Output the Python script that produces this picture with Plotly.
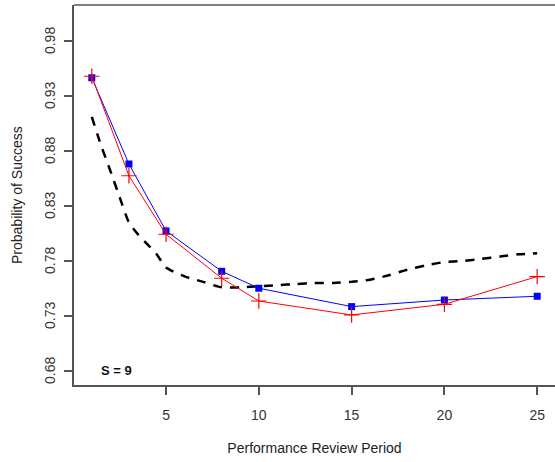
import plotly.graph_objects as go

# Data
periods = [1, 3, 5, 8, 10, 15, 20, 25]
blue_vals = [0.9466, 0.8682, 0.8073, 0.7706, 0.7552, 0.7385, 0.7445, 0.7479]
red_vals = [0.9480, 0.8575, 0.8043, 0.7643, 0.7436, 0.7309, 0.7406, 0.7658]

dash_x = [1, 1.5, 2, 2.5, 3, 3.5, 4, 4.5, 5, 6, 7, 8, 9, 10, 11, 12, 13, 14, 15,
          16, 17, 18, 19, 20, 21, 22, 23, 24, 25]
dash_y = [0.911, 0.885, 0.862, 0.838, 0.815, 0.804, 0.795, 0.786, 0.774, 0.766,
          0.761, 0.756, 0.756, 0.757, 0.758, 0.759, 0.760, 0.760, 0.761,
          0.763, 0.767, 0.772, 0.776, 0.779, 0.780, 0.782, 0.784, 0.786, 0.787]

x_ticks = [5, 10, 15, 20, 25]
y_ticks = [0.68, 0.73, 0.78, 0.83, 0.88, 0.93, 0.98]
y_tick_text = ["0.68", "0.73", "0.78", "0.83", "0.88", "0.93", "0.98"]

font_family = "Liberation Sans, Arial, sans-serif"
axis_color = "#555555"

fig = go.Figure()
fig.add_trace(go.Scatter(
    x=dash_x, y=dash_y, mode="lines",
    line=dict(color="black", width=2.5, dash="9px,8px", shape="spline", smoothing=0.6),
    showlegend=False, hoverinfo="skip"))
fig.add_trace(go.Scatter(
    x=periods, y=blue_vals, mode="lines+markers",
    line=dict(color="#0000FF", width=1),
    marker=dict(symbol="square", size=7, color="#0000FF"),
    showlegend=False))
fig.add_trace(go.Scatter(
    x=periods, y=red_vals, mode="lines+markers",
    line=dict(color="#FF0000", width=1),
    marker=dict(symbol="cross-thin", size=11, color="#FF0000",
                line=dict(color="#FF0000", width=1.2)),
    showlegend=False))

fig.add_annotation(x=2.32, y=0.6808, xref="x", yref="y", text="<b>S = 9</b>",
                   showarrow=False, font=dict(family=font_family, size=13, color="#111111"))

# Rotated y tick labels (R style)
for v, t in zip(y_ticks, y_tick_text):
    fig.add_annotation(x=0, xref="paper", y=v, yref="y", text=t, textangle=-90,
                       xanchor="center", yanchor="middle", xshift=-24, showarrow=False,
                       font=dict(family=font_family, size=14, color="#333333"))

fig.add_annotation(x=0, xref="paper", y=0.5, yref="paper", text="Probability of Success",
                   textangle=-90, xanchor="center", yanchor="middle", xshift=-57,
                   showarrow=False, font=dict(family=font_family, size=14, color="#222222"))

fig.add_shape(type="line", xref="paper", yref="paper", x0=0, x1=1, y0=1, y1=1,
              line=dict(color=axis_color, width=1.5))

fig.update_layout(
    width=555, height=462,
    margin=dict(l=74, r=0, t=5, b=77),
    paper_bgcolor="white", plot_bgcolor="white",
    font=dict(family=font_family, size=14, color="#333333"),
    xaxis=dict(range=[0.04, 25.96], tickvals=x_ticks, ticks="outside", ticklen=8,
               tickwidth=1.5, tickcolor=axis_color, showline=True, linecolor=axis_color,
               linewidth=1.5, showgrid=False, zeroline=False, ticklabelstandoff=8,
               title=dict(text="Performance Review Period", standoff=22,
                          font=dict(size=14, color="#222222")),
               tickfont=dict(size=14, color="#333333")),
    yaxis=dict(range=[0.6672, 1.0128], tickvals=y_ticks, showticklabels=False,
               ticks="outside", ticklen=8, tickwidth=1.5,
               tickcolor=axis_color, showline=True, linecolor=axis_color, linewidth=1.5,
               showgrid=False, zeroline=False),
)

fig.write_html("out.html")
